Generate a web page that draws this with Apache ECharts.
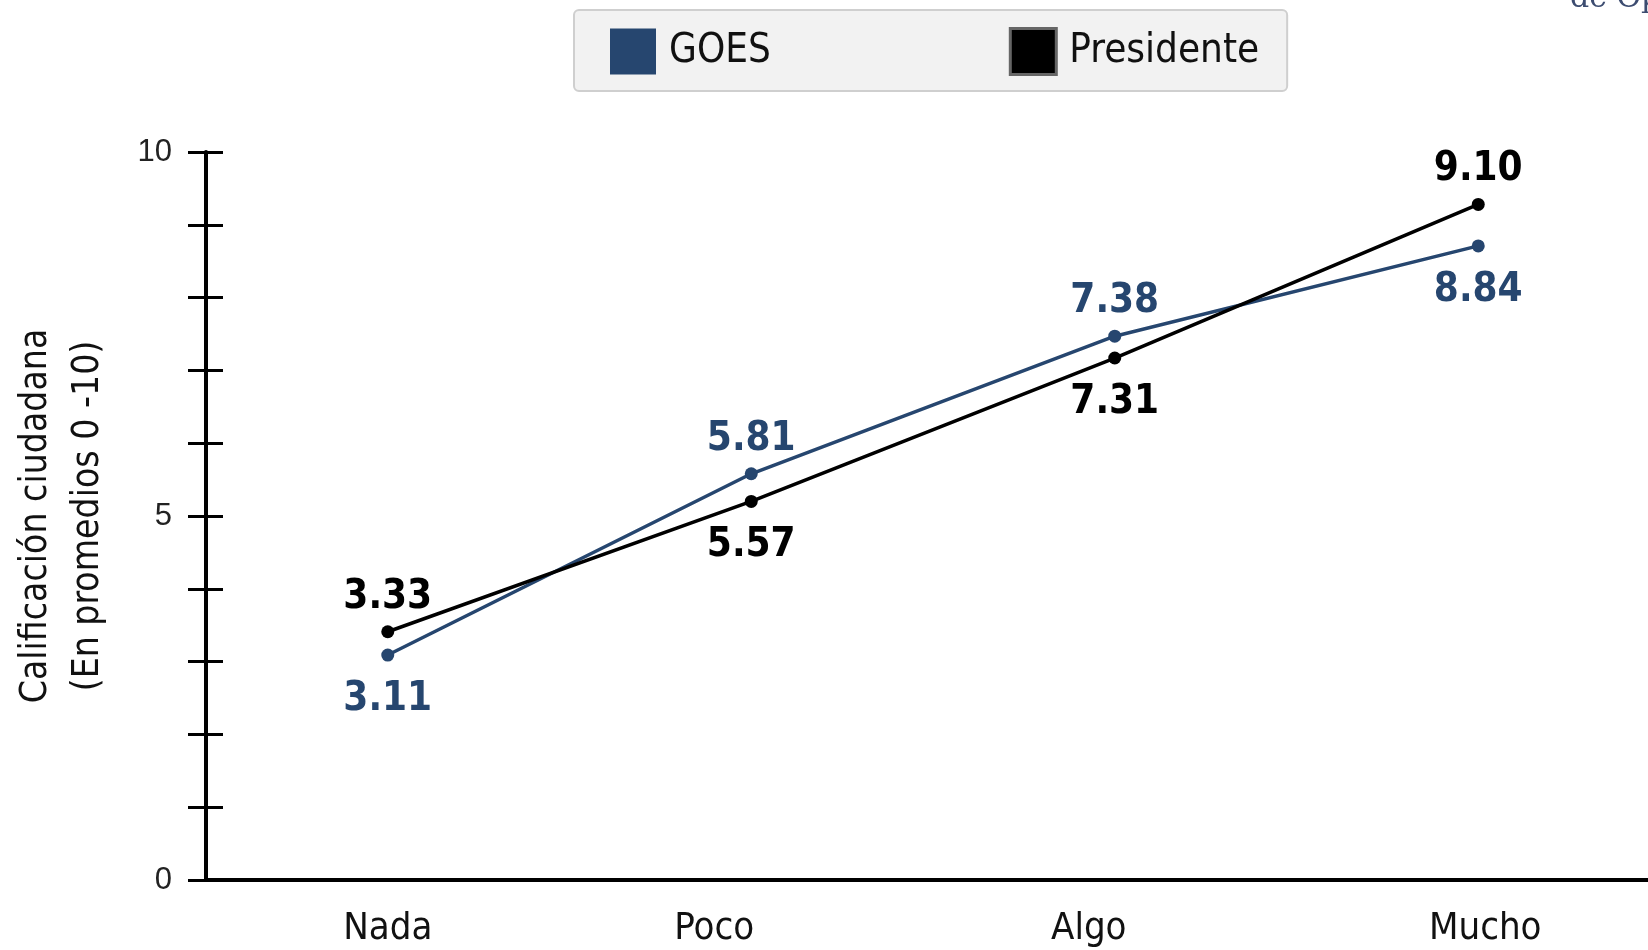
<!DOCTYPE html>
<html>

<head>
  <meta charset="UTF-8">
  <title>Calificación ciudadana</title>
  <style>
    html, body { margin: 0; padding: 0; background: #fff; }
  </style>
</head>

<body>
  <div id="main" style="width: 1648px; height: 950px;"></div>
  <script src="https://cdn.jsdelivr.net/npm/echarts@6.0.0/dist/echarts.min.js"></script>
  <script>
    // data
    const categories = ['Nada', 'Poco', 'Algo', 'Mucho'];
    // printed labels
    const goesLabels = [3.11, 5.81, 7.38, 8.84];
    const presLabels = [3.33, 5.57, 7.31, 9.10];
    // plotted heights as they sit on the axis in the picture
    const goes = [3.09, 5.58, 7.47, 8.71];
    const presidente = [3.41, 5.20, 7.17, 9.28];
    // label above (true) or below (false) each point
    const goesAbove = [false, true, true, false];
    const presAbove = [true, false, false, true];

    const narrow = "'Liberation Sans Narrow', 'DejaVu Sans Condensed', sans-serif";
    const navy = '#26466f';

    const makeData = (vals, labels, above, color) => vals.map((v, i) => ({
      value: v,
      label: {
        position: above[i] ? 'top' : 'bottom',
        distance: above[i] ? 8 : 18,
        color: color,
        formatter: labels[i].toFixed(2)
      }
    }));

    const chart = echarts.init(document.getElementById('main'));
    chart.setOption({
      animation: false,
      legend: {
        top: 10,
        left: 574,
        padding: [17, 28, 15, 36],
        backgroundColor: '#f2f2f2',
        borderColor: '#cfcfcf',
        borderWidth: 2,
        borderRadius: 5,
        itemWidth: 46,
        itemHeight: 46,
        itemGap: 238,
        icon: 'rect',
        textStyle: { fontFamily: narrow, fontSize: 40, color: '#111', padding: [8, 0, 0, 8] },
        data: [
          { name: 'GOES', itemStyle: { color: navy, borderWidth: 0 } },
          { name: 'Presidente', itemStyle: { color: '#000', borderColor: '#666', borderWidth: 3 } }
        ]
      },
      graphic: [{
        type: 'text',
        left: 1570,
        top: -16,
        style: { text: 'de Opi', font: '30px "DejaVu Serif", serif', fill: '#3c4c70' }
      }],
      grid: { left: 206, right: -12, top: 152, bottom: 70, outerBoundsMode: 'none' },
      xAxis: {
        type: 'category',
        data: categories,
        axisLine: { lineStyle: { color: '#000', width: 4 } },
        axisTick: { show: false },
        axisLabel: {
          fontFamily: narrow, fontSize: 38, color: '#111', margin: 30,
          formatter: (v, i) => `{c${i}|${v}}`,
          rich: {
            c0: { fontFamily: narrow, fontSize: 38, color: '#111', padding: [0, 0, 0, 0] },
            c1: { fontFamily: narrow, fontSize: 38, color: '#111', padding: [0, 74, 0, 0] },
            c2: { fontFamily: narrow, fontSize: 38, color: '#111', padding: [0, 52, 0, 0] },
            c3: { fontFamily: narrow, fontSize: 38, color: '#111', padding: [0, 0, 0, 14] }
          }
        }
      },
      yAxis: [{
        type: 'value',
        min: 0,
        max: 10,
        interval: 1,
        name: 'Calificación ciudadana\n(En promedios 0 -10)',
        nameLocation: 'middle',
        nameGap: 92,
        nameTextStyle: { fontFamily: narrow, fontSize: 37, color: '#111', lineHeight: 52 },
        splitLine: { show: false },
        axisLine: { show: true, lineStyle: { color: '#000', width: 4 } },
        axisTick: { show: true, length: 18, lineStyle: { color: '#000', width: 3 } },
        axisLabel: {
          fontFamily: "'Liberation Sans', 'DejaVu Sans', sans-serif",
          fontSize: 31,
          color: '#222',
          margin: 34,
          formatter: v => (v % 5 === 0 ? String(v) : '')
        }
      }, {
        type: 'value',
        position: 'left',
        min: 0,
        max: 10,
        interval: 1,
        splitLine: { show: false },
        axisLine: { show: false },
        axisTick: { show: true, inside: true, length: 17, lineStyle: { color: '#000', width: 3 } },
        axisLabel: { show: false }
      }],
      series: [{
        name: 'GOES',
        type: 'line',
        data: makeData(goes, goesLabels, goesAbove, navy),
        symbol: 'circle',
        symbolSize: 13,
        z: 3,
        lineStyle: { color: navy, width: 3.5 },
        itemStyle: { color: navy },
        label: { show: true, fontFamily: narrow, fontWeight: 'bold', fontSize: 40 }
      }, {
        name: 'Presidente',
        type: 'line',
        data: makeData(presidente, presLabels, presAbove, '#000'),
        symbol: 'circle',
        symbolSize: 13,
        z: 4,
        lineStyle: { color: '#000', width: 3.5 },
        itemStyle: { color: '#000' },
        label: { show: true, fontFamily: narrow, fontWeight: 'bold', fontSize: 40 }
      }]
    });
  </script>
</body>

</html>
